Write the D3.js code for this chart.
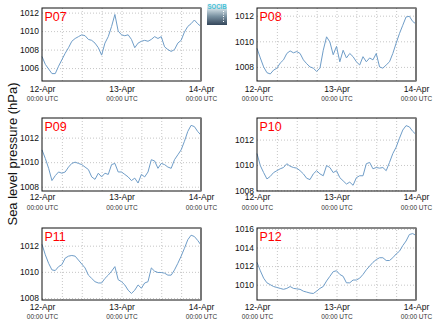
<!DOCTYPE html>
<html><head><meta charset="utf-8">
<script src="https://cdn.jsdelivr.net/npm/d3@7"></script>
<style>
body{margin:0;background:#fff}
svg{display:block}
text{font-family:"Liberation Sans",Arial,Helvetica,sans-serif}
</style></head><body>
<svg id="c" width="435" height="327"></svg>
<script>
// ---------- data ----------
const stations = ["P07","P08","P09","P10","P11","P12"];
const hours = [0,1,2,3,4,5,6,7,8,9,10,11,12,13,14,15,16,17,18,19,20,21,22,23,24,
               25,26,27,28,29,30,31,32,33,34,35,36,37,38,39,40,41,42,43,44,45,46,47,48];
const dayTicks = [0,24,48];
const dayLabels = ["12-Apr","13-Apr","14-Apr"];
const timeLabel = "00:00 UTC";
const gridHours = [6,12,18,24,30,36,42];
const yTitle = "Sea level pressure (hPa)";
const logoText = "SOCIB";

const p07 = [1007.25,1006.4,1005.9,1005.4,1005.4,1006.2,1006.9,1007.6,1008.2,1008.9,1009.2,1009.4,1009.6,1009.5,1009.1,1009.0,1008.7,1008.2,1007.4,1008.7,1009.4,1010.5,1011.8,1010.0,1009.6,
             1009.5,1009.6,1009.1,1008.2,1008.7,1008.9,1009.0,1008.9,1009.1,1009.4,1009.2,1009.4,1008.3,1008.0,1007.8,1008.0,1008.7,1009.0,1009.9,1010.5,1010.8,1011.2,1010.8,1010.5];
const p08 = [1009.45,1008.7,1008.0,1007.55,1007.45,1007.75,1007.9,1008.3,1008.55,1009.05,1009.25,1009.1,1009.2,1009.05,1008.55,1008.25,1008.0,1007.9,1007.65,1007.9,1009.3,1010.35,1009.95,1008.95,1009.6,
             1008.4,1009.3,1008.7,1009.05,1008.8,1008.4,1008.15,1008.8,1008.4,1008.7,1008.55,1009.05,1008.0,1007.9,1008.15,1008.4,1009.05,1009.85,1010.6,1011.25,1011.9,1011.95,1011.55,1011.35];
const p09 = [1011.0,1010.3,1009.5,1008.5,1008.9,1009.2,1009.1,1009.2,1009.6,1009.9,1010.0,1009.9,1009.8,1009.6,1009.4,1008.8,1008.6,1009.1,1008.8,1009.1,1009.0,1009.8,1009.9,1009.2,1009.2,
             1009.0,1008.8,1008.5,1008.7,1008.3,1009.0,1008.8,1009.2,1010.2,1010.1,1009.5,1009.9,1009.8,1009.6,1009.5,1010.2,1010.6,1011.0,1011.7,1012.5,1013.0,1012.9,1012.5,1012.2];
const p10 = [1010.9,1009.95,1009.4,1008.9,1009.1,1009.4,1009.55,1009.7,1009.8,1010.1,1009.9,1009.8,1009.75,1009.55,1009.3,1008.95,1008.85,1009.3,1009.55,1009.3,1009.15,1009.95,1009.8,1009.4,1009.55,
             1009.0,1008.75,1008.5,1008.65,1008.4,1009.0,1009.15,1009.15,1010.1,1010.2,1009.7,1009.8,1009.75,1009.8,1009.55,1010.2,1010.9,1011.4,1012.1,1012.75,1013.1,1013.0,1012.65,1012.4];
const p11 = [1012.1,1011.3,1010.65,1010.15,1010.1,1010.4,1010.55,1011.05,1011.2,1011.25,1011.2,1010.9,1010.6,1010.3,1009.75,1009.5,1009.25,1009.15,1009.15,1009.5,1009.75,1010.05,1010.4,1009.4,1009.25,
             1009.0,1008.6,1008.35,1008.6,1009.0,1008.75,1009.15,1009.25,1010.3,1010.05,1009.95,1009.95,1009.9,1009.75,1009.75,1010.15,1010.65,1011.2,1011.8,1012.45,1012.8,1012.7,1012.4,1012.05];
const p12 = [1012.4,1011.5,1010.7,1010.2,1010.0,1009.8,1009.7,1009.6,1009.5,1009.6,1009.8,1009.6,1009.55,1009.5,1009.3,1009.2,1009.1,1009.05,1009.3,1009.6,1009.8,1010.4,1010.9,1011.4,1011.5,
             1011.1,1010.9,1010.2,1010.2,1010.5,1010.5,1010.7,1011.1,1011.6,1012.0,1012.4,1012.7,1012.9,1012.9,1012.6,1012.6,1012.9,1013.3,1013.6,1014.2,1014.7,1015.4,1015.5,1015.3];
const series = [p07,p08,p09,p10,p11,p12];

const yTicks = [[1006,1008,1010,1012],[1008,1010,1012],[1008,1010,1012],[1008,1010,1012],[1008,1010,1012],[1010,1012,1014,1016]];
const yDomains = [[1004.6,1012.5],[1006.9,1012.6],[1007.65,1013.6],[1007.95,1013.7],[1007.85,1013.35],[1008.35,1016.1]];

// ---------- layout ----------
const cols = [[42,201],[257,416]];
const rows = [[8,81],[118,191],[228,300]];
const dateBase = [91.5,200.3,309.8];
const utcBase = [101,209.5,318.8];

const svg = d3.select("#c");
svg.append("rect").attr("width",435).attr("height",327).attr("fill","#fff");

series.forEach((vals,i)=>{
  const [x0,x1] = cols[i%2];
  const [y0,y1] = rows[Math.floor(i/2)];
  const r = Math.floor(i/2);
  const x = d3.scaleLinear().domain([hours[0],hours[hours.length-1]]).range([x0,x1]);
  const y = d3.scaleLinear().domain(yDomains[i]).range([y1,y0]);
  const g = svg.append("g");

  // grid
  const gh = g.append("g").attr("transform",`translate(${x0},0)`)
    .call(d3.axisLeft(y).tickValues(yTicks[i]).tickSize(-(x1-x0)).tickFormat(""));
  const gv = g.append("g").attr("transform",`translate(0,${y1})`)
    .call(d3.axisBottom(x).tickValues(gridHours).tickSize(-(y1-y0)).tickFormat(""));
  [gh,gv].forEach(a=>{
    a.select(".domain").remove();
    a.selectAll("line").attr("stroke","#b8b8b8").attr("stroke-dasharray","1,2").attr("stroke-width",0.8);
  });

  // y labels
  const ya = g.append("g").attr("transform",`translate(${x0},0)`)
    .call(d3.axisLeft(y).tickValues(yTicks[i]).tickSize(0).tickPadding(3).tickFormat(d3.format("d")));
  ya.select(".domain").remove();
  ya.selectAll("text").attr("font-size","8.5px").attr("fill","#111").style("font-family","'Liberation Sans',Arial,sans-serif");

  // x labels
  const xa = g.append("g").attr("transform",`translate(0,${y1})`)
    .call(d3.axisBottom(x).tickValues(dayTicks).tickSize(0));
  xa.select(".domain").remove();
  xa.selectAll(".tick text").each(function(d,j){
    const t = d3.select(this);
    t.text(null).attr("dy",null).attr("y",null).attr("fill","#111").style("font-family","'Liberation Sans',Arial,sans-serif");
    t.append("tspan").attr("x",0).attr("y",dateBase[r]-y1).attr("font-size","8.5px").text(dayLabels[j]);
    t.append("tspan").attr("x",0).attr("y",utcBase[r]-y1).attr("font-size","6.5px").attr("fill","#333").text(timeLabel);
  });

  // line
  const line = d3.line().x((d,j)=>x(hours[j])).y(d=>y(d));
  g.append("path").datum(vals).attr("d",line).attr("fill","none")
    .attr("stroke","#6f9dc8").attr("stroke-width",1).attr("stroke-linejoin","round");

  // frame
  g.append("rect").attr("x",x0).attr("y",y0).attr("width",x1-x0).attr("height",y1-y0)
    .attr("fill","none").attr("stroke","#111").attr("stroke-width",1);
  g.append("line").attr("x1",x1).attr("x2",x1).attr("y1",y0).attr("y2",y1)
    .attr("stroke","#777").attr("stroke-width",2);

  // station label
  g.append("text").attr("x",x0+2.5).attr("y",y0+12.5).attr("fill","#ff0000")
    .attr("font-size","12.5px").text(stations[i]);
});

// y title
svg.append("text").attr("transform","translate(17,154) rotate(-90)")
  .attr("text-anchor","middle").attr("font-size","13px").attr("fill","#111").text(yTitle);

// logo
const defs = svg.append("defs");
const grad = defs.append("linearGradient").attr("id","lg").attr("x1",0).attr("x2",0).attr("y1",0).attr("y2",1);
grad.append("stop").attr("offset","0%").attr("stop-color","#ffffff");
grad.append("stop").attr("offset","25%").attr("stop-color","#d2e0e6");
grad.append("stop").attr("offset","60%").attr("stop-color","#7a92a2");
grad.append("stop").attr("offset","100%").attr("stop-color","#34465a");
svg.append("rect").attr("x",207).attr("y",3).attr("width",20).attr("height",22).attr("fill","url(#lg)");
svg.append("text").attr("x",207.5).attr("y",8.5).attr("font-size","6.5px")
  .attr("textLength",19).attr("lengthAdjust","spacingAndGlyphs")
  .attr("fill","#45c2d8").attr("font-weight","bold").text(logoText);
svg.append("line").attr("x1",223.5).attr("x2",223.5).attr("y1",11).attr("y2",23)
  .attr("stroke","#fff").attr("stroke-dasharray","1,1.5").attr("stroke-width",1);
</script>
</body></html>
